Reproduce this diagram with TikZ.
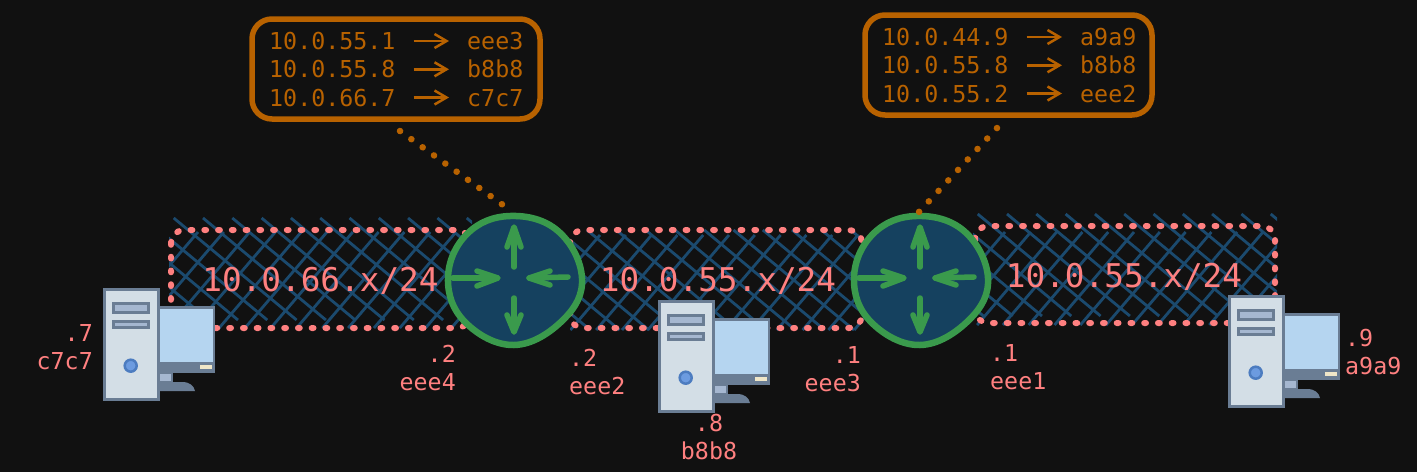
\documentclass[tikz,border=0pt]{standalone}
\usepackage{fontspec}
\usetikzlibrary{arrows.meta}
\setmainfont{DejaVu Sans Mono}
\definecolor{bg}{HTML}{111111}
\definecolor{pink}{HTML}{FF8080}
\definecolor{amber}{HTML}{B86200}
\definecolor{grn}{HTML}{3A9A4C}
\definecolor{navy}{HTML}{15415F}
\definecolor{hatch}{HTML}{1B4A6E}
\definecolor{pcline}{HTML}{6A7D94}
\definecolor{pcbody}{HTML}{D3DEE6}
\definecolor{pcscreen}{HTML}{B5D5F0}
\definecolor{pcslot}{HTML}{A5B7D0}
\definecolor{pcblue}{HTML}{6C9BE0}
\definecolor{pcbtn}{HTML}{4C7CC0}
\definecolor{pcled}{HTML}{EFE6C8}
\tikzset{
  x=1pt,y=-1pt,
  netlabel/.style={text=pink,font=\fontsize{32.7}{36}\selectfont,anchor=base,inner sep=0pt},
  addr/.style={text=pink,font=\fontsize{23.3}{28}\selectfont,inner sep=0pt},
  ipt/.style={text=amber,font=\fontsize{23.3}{28}\selectfont,inner sep=0pt,anchor=base west},
  tablebox/.style={draw=amber,line width=5.5pt,rounded corners=20pt},
  maparrow/.style={draw=amber,line width=2.5pt,shorten >=18pt,shorten <=18pt,-{Straight Barb[length=12pt,width=14pt,line width=2.5pt]}},
  tether/.style={draw=amber,line width=6.5pt,line cap=round,dash pattern=on 0.1pt off #1},
  netedge/.style={draw=pink,line width=6pt,line cap=round,dash pattern=on 1.8pt off 11.95pt,rounded corners=13pt},
  hatchline/.style={draw=hatch,line width=2.8pt},
  routerlink/.style={circle,minimum size=136pt,inner sep=0pt},
  routerarrow/.style={draw=grn,line width=5.5pt,line cap=round,line join=round},
  pc/.pic={
    \fill[pcline] (56,18) rectangle (112,85);
    \fill[pcscreen] (56,20.5) rectangle (110,74);
    \fill[pcled] (97,77) rectangle (109,81);
    \fill[pcslot,draw=pcline,line width=2.5pt] (56,85) rectangle (69,94);
    \fill[pcline] (56,94) -- (79,94) .. controls (87,94) and (91,98) .. (92,103) -- (56,103) -- cycle;
    \fill[pcbody,draw=pcline,line width=3pt] (1.5,1.5) rectangle (55,111);
    \fill[pcslot,draw=pcline,line width=3pt] (10.2,15.8) rectangle (45.5,24.8);
    \fill[pcslot,draw=pcline,line width=3pt] (10.2,33.5) rectangle (45.5,39.8);
    \fill[pcblue,draw=pcbtn,line width=2.5pt] (27.7,77.7) circle (6pt);
  },
  routerpic/.pic={
    \filldraw[fill=navy,draw=grn,line width=6.5pt,line join=round]
      plot[smooth cycle,tension=0.68] coordinates {(-66,-2)(-47,-46)(-4,-64)(44,-49)(68,-2)(49,40)(0,65)(-49,42)};
    \draw[routerarrow] (0,-13) -- (0,-52);
    \draw[routerarrow] (-7,-33) -- (0,-53) -- (7,-33);
    \draw[routerarrow] (-61,-2) -- (-17,-2);
    \draw[routerarrow] (-37,-9) -- (-16,-2) -- (-37,6);
    \draw[routerarrow] (54,-3) -- (15,-2);
    \draw[routerarrow] (36,-9) -- (15,-2) -- (36,5);
    \draw[routerarrow] (0,18) -- (0,51);
    \draw[routerarrow] (-7,35) -- (0,52) -- (7,35);
  }
}
% left, right, A-start x, A-start y, A-end y, B-start x, B-top y, B-bottom y
\newcommand{\hachure}[8]{%
  \begin{scope}
    \clip (#1-2,0) rectangle (#2+2,472);
    \foreach \k in {-5,...,12} {
      \draw[hatchline] (#3+\k*29.3,#4) -- ++({(#5-#4)/0.83},#5-#4);
    }
    \foreach \k in {0,...,16} {
      \draw[hatchline] (#6+\k*25.8,#7) -- ++({-(#8-#7)/1.17},#8-#7);
    }
  \end{scope}}
\begin{document}
\begin{tikzpicture}
\useasboundingbox (0,0) rectangle (1417,472);
\fill[bg] (0,0) rectangle (1417,472);

% networks
\hachure{171}{470}{203}{218}{320}{198}{232}{328}
\hachure{572}{862}{587}{230}{330}{600}{235}{330}
\hachure{975}{1275}{1007}{214}{316}{1005}{232}{325}
\draw[netedge] (171,230) rectangle (470,328);
\draw[netedge] (570,230) rectangle (862,328);
\draw[netedge] (975,226) rectangle (1275,323);
\node[netlabel] (n1) at (320.5,291) {10.0.66.x/24};
\node[netlabel] (n2) at (718,291) {10.0.55.x/24};
\node[netlabel] (n3) at (1124,287) {10.0.55.x/24};

% routers
\node[routerlink] (r1) at (514,280) {};
\node[routerlink] (r2) at (920,280) {};
\pic at (r1.center) {routerpic};
\pic at (r2.center) {routerpic};

% hosts
\pic at (103,288) {pc};
\pic at (658,300) {pc};
\pic at (1228,295) {pc};

% address labels (anchor is the baseline of the lower line)
\node[addr,align=right,anchor=base east] (l1) at (93,369) {.7\\c7c7};
\node[addr,align=right,anchor=base east] (l2) at (456,390) {.2\\eee4};
\node[addr,align=left,anchor=base west] (l3) at (569,394) {.2\\eee2};
\node[addr,align=right,anchor=base east] (l4) at (861,391) {.1\\eee3};
\node[addr,align=left,anchor=base west] (l5) at (990,389) {.1\\eee1};
\node[addr,align=left,anchor=base west] (l6) at (1345,374) {.9\\a9a9};
\node[addr,align=center,anchor=base] (l7) at (709,459) {.8\\b8b8};

% tables
\draw[tablebox] (252,19) rectangle (540,119);
\node[ipt] (a1) at (269,49) {10.0.55.1};
\node[ipt] (a2) at (269,77.5) {10.0.55.8};
\node[ipt] (a3) at (269,106) {10.0.66.7};
\node[ipt] (b1) at (467,49) {eee3};
\node[ipt] (b2) at (467,77.5) {b8b8};
\node[ipt] (b3) at (467,106) {c7c7};
\draw[maparrow] (a1.east |- 0,41) -- (b1.west |- 0,41);
\draw[maparrow] (a2.east |- 0,69.3) -- (b2.west |- 0,69.3);
\draw[maparrow] (a3.east |- 0,97.5) -- (b3.west |- 0,97.5);

\draw[tablebox] (865,15) rectangle (1152,115);
\node[ipt] (c1) at (882,45) {10.0.44.9};
\node[ipt] (c2) at (882,73.5) {10.0.55.8};
\node[ipt] (c3) at (882,102) {10.0.55.2};
\node[ipt] (d1) at (1080,45) {a9a9};
\node[ipt] (d2) at (1080,73.5) {b8b8};
\node[ipt] (d3) at (1080,102) {eee2};
\draw[maparrow] (c1.east |- 0,37) -- (d1.west |- 0,37);
\draw[maparrow] (c2.east |- 0,65.3) -- (d2.west |- 0,65.3);
\draw[maparrow] (c3.east |- 0,93.5) -- (d3.west |- 0,93.5);

% tethers
\coordinate (t1) at (400,131);
\coordinate (u1) at (503,205);
\coordinate (t2) at (997,128);
\coordinate (u2) at (918,213);
\draw[tether=13.84pt] (t1) -- (u1);
\draw[tether=14.2pt] (t2) -- (u2);
\end{tikzpicture}
\end{document}
